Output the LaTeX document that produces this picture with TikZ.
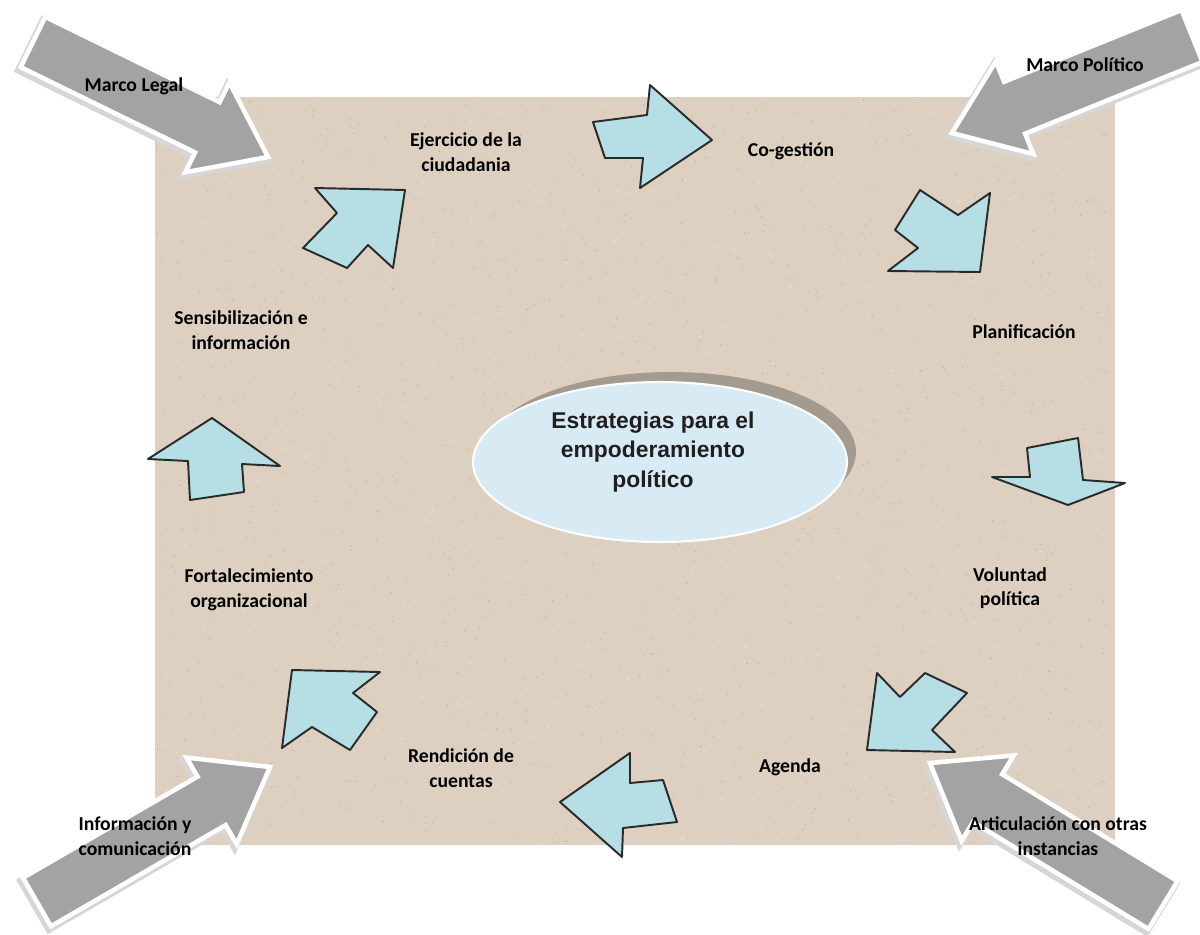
\documentclass[tikz,border=0pt]{standalone}
\usepackage{fontspec}
\setmainfont{Carlito}
\newfontfamily\arialfont{Liberation Sans}
\usetikzlibrary{calc,shapes.geometric}
\definecolor{beige}{HTML}{DDD0C0}
\definecolor{speckdark}{HTML}{B8A792}
\definecolor{specklight}{HTML}{F0E9DF}
\definecolor{arrowgray}{HTML}{A3A3A3}
\definecolor{bluefill}{HTML}{B5DFE5}
\definecolor{blueline}{HTML}{2A2A2A}
\definecolor{ellfill}{HTML}{D8EBF5}
\definecolor{ellshadow}{HTML}{A39A90}
\tikzset{
  bluearr/.style={fill=bluefill, draw=blueline, line width=1.1pt, line join=round},
  grayarr/.style={fill=arrowgray, draw=white, line width=2.6pt, line join=miter},
  grayhalo/.style={fill=black!16, draw=black!16, line width=4pt, line join=miter},
  lbl/.style={font=\bfseries\fontsize{11.2}{14}\selectfont, align=center, text=black, inner sep=1pt},
}
\newcommand\grayarrowpath[2]{%
  ($(#1)!0.56cm!90:(#2)$) -- ($($(#2)!1.35cm!(#1)$)!0.56cm!90:(#2)$) --
  ($($(#2)!1.35cm!(#1)$)!1.0cm!90:(#2)$) -- (#2) --
  ($($(#2)!1.35cm!(#1)$)!1.0cm!-90:(#2)$) -- ($($(#2)!1.35cm!(#1)$)!0.56cm!-90:(#2)$) --
  ($(#1)!0.56cm!-90:(#2)$) -- cycle}
\newcommand\grayarrow[2]{%
  \begin{scope}[transform canvas={xshift=-1.2pt,yshift=-1.8pt}]
    \path[grayhalo] \grayarrowpath{#1}{#2};
  \end{scope}
  \path[grayarr] \grayarrowpath{#1}{#2};}
\begin{document}
\begin{tikzpicture}[x=0.02cm,y=-0.02cm]
\useasboundingbox (0,0) rectangle (1200,934);
\fill[white] (0,0) rectangle (1200,934);
% background panel
\fill[beige] (155,97) rectangle (1115,845);
\pgfmathsetseed{11}
\foreach \i in {1,...,1100}{%
  \pgfmathsetmacro\xx{157+956*rnd}%
  \pgfmathsetmacro\yy{99+744*rnd}%
  \fill[speckdark] (\xx,\yy) circle (0.35pt);}
\foreach \i in {1,...,800}{%
  \pgfmathsetmacro\xx{157+956*rnd}%
  \pgfmathsetmacro\yy{99+744*rnd}%
  \fill[specklight] (\xx,\yy) circle (0.4pt);}
% central ellipse
\fill[ellshadow] (671,452) ellipse [x radius=3.7cm, y radius=1.6cm];
\node[ellipse, minimum width=7.48cm, minimum height=3.2cm, fill=ellfill, draw=white!90!ellfill, line width=1.2pt, inner sep=0pt] (center) at (660,462) {};
\node[font=\arialfont\bfseries\fontsize{13}{16.8}\selectfont, align=center, text=black!88] (centertext) at (653,452) {Estrategias para el\\empoderamiento\\político};
% blue arrows
\draw[bluearr] (593,122) -- (647,115) -- (650,85) -- (712,140) -- (640,188) -- (643,158) -- (605,158) -- cycle;
\draw[bluearr] (920,190) -- (958,215) -- (990,193) -- (980,272) -- (888,271) -- (918,248) -- (895,230) -- cycle;
\draw[bluearr] (1027,448) -- (1078,438) -- (1083,480) -- (1125,483) -- (1068,505) -- (992,477) -- (1030,477) -- cycle;
\draw[bluearr] (877,673) -- (900,697) -- (925,673) -- (967,693) -- (932,730) -- (955,752) -- (867,750) -- cycle;
\draw[bluearr] (630,753) -- (630,783) -- (663,780) -- (677,822) -- (623,828) -- (622,857) -- (560,802) -- cycle;
\draw[bluearr] (292,670) -- (380,672) -- (353,693) -- (377,712) -- (350,750) -- (312,727) -- (282,748) -- cycle;
\draw[bluearr] (212,418) -- (280,466) -- (242,464) -- (244,492) -- (190,500) -- (188,461) -- (148,459) -- cycle;
\draw[bluearr] (315,188) -- (405,190) -- (393,268) -- (368,245) -- (347,268) -- (303,248) -- (337,213) -- cycle;
% gray corner arrows
\coordinate (tlT) at (33,42);   \coordinate (tlB) at (268,157);
\coordinate (trT) at (1192,36); \coordinate (trB) at (952,133);
\coordinate (blT) at (37,902);  \coordinate (blB) at (270,767);
\coordinate (brT) at (1163,905);\coordinate (brB) at (930,763);
\grayarrow{tlT}{tlB}
\grayarrow{trT}{trB}
\grayarrow{blT}{blB}
\grayarrow{brT}{brB}
% labels
\node[lbl] (marcolegal) at (134,86) {Marco Legal};
\node[lbl] (marcopol) at (1085,65) {Marco Político};
\node[lbl] (infocom) at (135,836) {Información y\\comunicación};
\node[lbl] (artic) at (1058,836) {Articulación con otras\\instancias};
\node[lbl] (ejer) at (466,152) {Ejercicio de la\\ciudadania};
\node[lbl] (cog) at (791,151) {Co-gestión};
\node[lbl] (plan) at (1024,332) {Planificación};
\node[lbl] (sens) at (241,330) {Sensibilización e\\información};
\node[lbl] (fort) at (249,590) {Fortalecimiento\\organizacional};
\node[lbl] (vol) at (1010,588) {Voluntad\\política};
\node[lbl] (agen) at (790,767) {Agenda};
\node[lbl] (rend) at (461,768) {Rendición de\\cuentas};
\end{tikzpicture}
\end{document}
